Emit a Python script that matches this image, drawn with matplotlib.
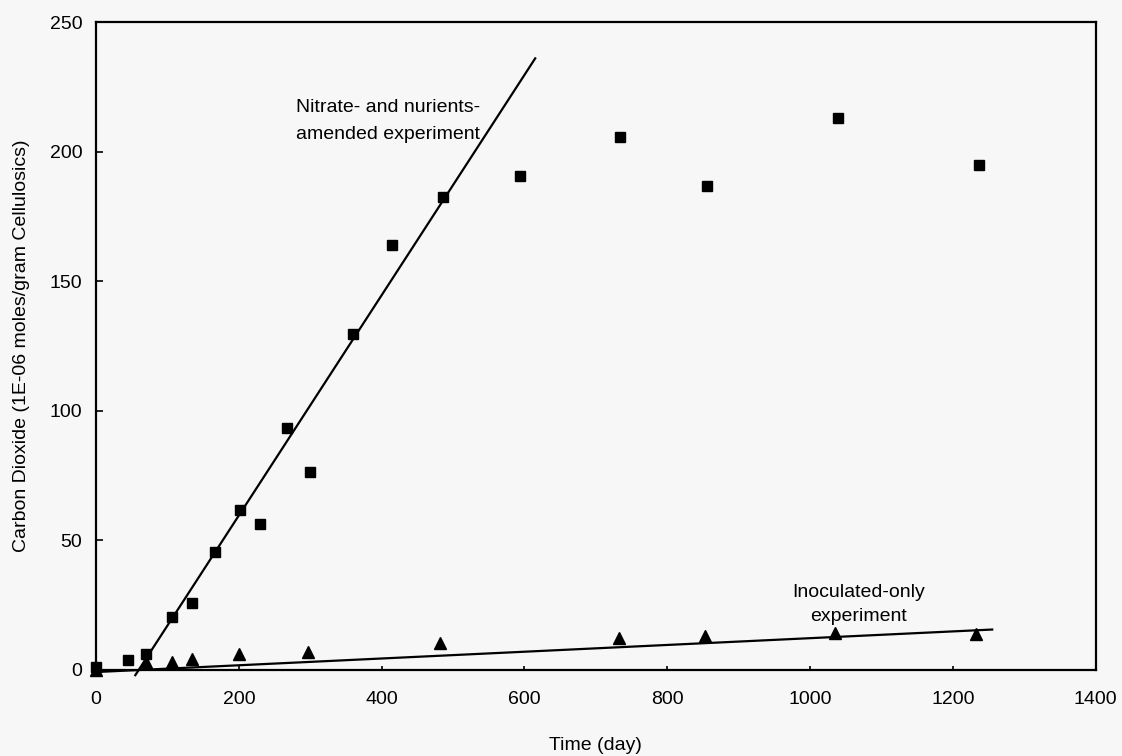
import matplotlib
matplotlib.use("Agg")
import matplotlib.pyplot as plt

plt.rcParams["font.family"] = ["Liberation Sans", "DejaVu Sans"]

# nitrate- and nutrient-amended experiment (squares)
nitrate_days = [0, 45, 70, 106, 134, 166, 201, 230, 268, 300, 360, 415, 486, 594, 734, 856, 1039, 1237]
nitrate_co2 = [1.0, 3.9, 6.0, 20.5, 26.0, 45.4, 61.8, 56.5, 93.3, 76.4, 129.6, 163.9, 182.4,
               190.7, 205.5, 186.9, 213.0, 194.7]

# inoculated-only experiment (triangles)
inoc_days = [0, 70, 106, 134, 200, 297, 482, 733, 853, 1035, 1233]
inoc_co2 = [0.0, 2.9, 3.1, 4.3, 6.1, 6.8, 10.4, 12.4, 13.2, 14.2, 13.7]

# fitted trend lines as drawn in the figure
nitrate_fit_days = [55, 615]
nitrate_fit_co2 = [-2.0, 236.0]
inoc_fit_days = [0, 1255]
inoc_fit_co2 = [-0.8, 15.6]

x_ticks = [0, 200, 400, 600, 800, 1000, 1200, 1400]
y_ticks = [0, 50, 100, 150, 200, 250]

bg = "#f7f7f7"
fig = plt.figure(figsize=(11.22, 7.56), dpi=100, facecolor=bg)
ax = fig.add_axes([0.0856, 0.1138, 0.891, 0.857])
ax.set_facecolor(bg)

ax.plot(nitrate_fit_days, nitrate_fit_co2, color="black", lw=1.6, clip_on=False)
ax.plot(inoc_fit_days, inoc_fit_co2, color="black", lw=1.6, clip_on=False)
ax.plot(nitrate_days, nitrate_co2, "s", color="black", markersize=7, clip_on=False, zorder=3)
ax.plot(inoc_days, inoc_co2, "^", color="black", markersize=8, clip_on=False, zorder=3)

ax.set_xlim(0, 1400)
ax.set_ylim(0, 250)
ax.set_xticks(x_ticks)
ax.set_yticks(y_ticks)
ax.tick_params(axis="x", direction="in", length=3, width=1.2, pad=15, labelsize=14)
ax.tick_params(axis="y", direction="in", length=5, width=1.2, pad=10, labelsize=14)
for s in ax.spines.values():
    s.set_linewidth(1.6)
    s.set_color("black")

ax.set_xlabel("Time (day)", fontsize=14)
ax.set_ylabel("Carbon Dioxide (1E-06 moles/gram Cellulosics)", fontsize=14)
ax.xaxis.set_label_coords(0.5, -0.103)
ax.yaxis.set_label_coords(-0.066, 0.5)

ax.text(280, 217, "Nitrate- and nurients-", fontsize=14, ha="left", va="center")
ax.text(280, 206.5, "amended experiment", fontsize=14, ha="left", va="center")
ax.text(1068, 30, "Inoculated-only", fontsize=14, ha="center", va="center")
ax.text(1068, 20.5, "experiment", fontsize=14, ha="center", va="center")

fig.savefig("out.png", dpi=100, facecolor=bg)
